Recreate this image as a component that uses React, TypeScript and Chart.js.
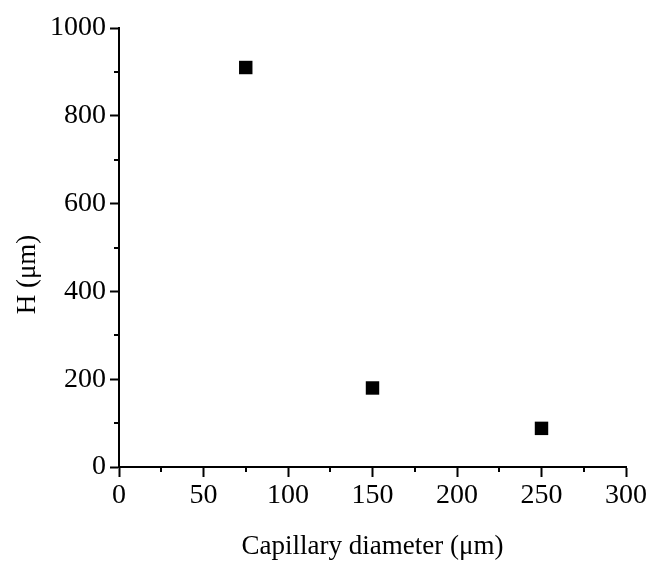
import React, { useEffect, useRef } from "react";
import { Chart, registerables } from "chart.js";

Chart.register(...registerables);

const diameters: number[] = [75, 150, 250];
const heights: number[] = [910, 180, 88];
const xMinorTicks: number[] = [25, 75, 125, 175, 225, 275];
const yMinorTicks: number[] = [100, 300, 500, 700, 900];
const xTitle = "Capillary diameter (μm)";
const yTitle = "H (μm)";

const FONT = "'Liberation Serif', 'Times New Roman', serif";

const minorTicksPlugin = {
  id: "minorTicks",
  afterDraw(chart: any) {
    const ctx = chart.ctx;
    const xs = chart.scales.x;
    const ys = chart.scales.y;
    ctx.save();
    ctx.strokeStyle = "#000";
    ctx.lineWidth = 2;
    ctx.beginPath();
    xMinorTicks.forEach((v) => {
      const px = Math.round(xs.getPixelForValue(v));
      ctx.moveTo(px, xs.top);
      ctx.lineTo(px, xs.top + 5);
    });
    yMinorTicks.forEach((v) => {
      const py = Math.round(ys.getPixelForValue(v));
      ctx.moveTo(ys.right, py);
      ctx.lineTo(ys.right - 5, py);
    });
    ctx.stroke();
    ctx.restore();
  },
};

export default function App() {
  const ref = useRef<HTMLCanvasElement | null>(null);

  useEffect(() => {
    if (!ref.current) return;
    const chart = new Chart(ref.current, {
      type: "scatter",
      data: {
        datasets: [
          {
            data: diameters.map((d, i) => ({ x: d, y: heights[i] })),
            pointStyle: "rect",
            pointRadius: 9.5,
            pointHoverRadius: 9.5,
            backgroundColor: "#000",
            borderColor: "#000",
            borderWidth: 0,
          },
        ],
      },
      options: {
        responsive: false,
        animation: false,
        events: [],
        layout: { padding: { top: 28, right: 24, left: 8, bottom: 4 } },
        plugins: {
          legend: { display: false },
          tooltip: { enabled: false },
        },
        scales: {
          x: {
            type: "linear",
            min: 0,
            max: 300,
            border: { display: true, color: "#000", width: 2 },
            grid: {
              drawOnChartArea: false,
              drawTicks: true,
              tickLength: 10,
              tickWidth: 2,
              tickColor: "#000",
            },
            ticks: {
              stepSize: 50,
              color: "#000",
              padding: 2,
              maxRotation: 0,
              callback: (v: any) => String(v),
              font: { family: FONT, size: 28 },
            },
            title: {
              display: true,
              text: xTitle,
              color: "#000",
              padding: { top: 0, bottom: 0 },
              font: { family: FONT, size: 27 },
            },
            afterFit(scale: any) {
              scale.height = 96;
              scale.paddingLeft = 0;
              scale.paddingRight = 0;
            },
          },
          y: {
            type: "linear",
            min: 0,
            max: 1000,
            border: { display: true, color: "#000", width: 2 },
            grid: {
              drawOnChartArea: false,
              drawTicks: true,
              tickLength: 9,
              tickWidth: 2,
              tickColor: "#000",
            },
            ticks: {
              stepSize: 200,
              color: "#000",
              padding: 4,
              callback: (v: any) => String(v),
              font: { family: FONT, size: 28 },
            },
            title: {
              display: true,
              text: yTitle + "        ",
              color: "#000",
              padding: { top: 4, bottom: 0 },
              font: { family: FONT, size: 27 },
            },
            afterFit(scale: any) {
              scale.width = 111;
              scale.paddingTop = 0;
              scale.paddingBottom = 0;
            },
          },
        },
      },
      plugins: [minorTicksPlugin],
    });
    return () => chart.destroy();
  }, []);

  return (
    <div style={{ position: "absolute", left: 0, top: 0, width: 650, height: 567 }}>
      <canvas ref={ref} width={650} height={567} style={{ display: "block" }} />
    </div>
  );
}
